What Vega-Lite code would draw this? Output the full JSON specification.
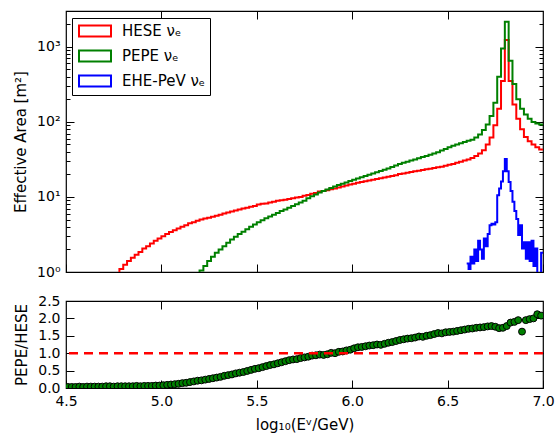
{
  "$schema": "https://vega.github.io/schema/vega-lite/v6.json",
  "autosize": {"type": "pad"},
  "padding": {"left": 12, "top": 9, "right": 2, "bottom": 2},
  "spacing": 10,
  "config": {
    "font": "DejaVu Sans",
    "view": {"stroke": "black", "strokeWidth": 1.2},
    "axis": {"labelFontSize": 14, "titleFontSize": 15, "labelColor": "black", "titleColor": "black", "titleFontWeight": "normal", "tickColor": "black", "domain": false, "grid": false, "labelFont": "DejaVu Sans", "titleFont": "DejaVu Sans", "labelFlush": false},
    "axisX": {"minExtent": 0},
    "axisTop": {"minExtent": 0},
    "axisBottom": {"minExtent": 0}
  },
  "datasets": {
    "eff": [
      {"s":"HESE","x":4.76,"y":0.9},{"s":"HESE","x":4.78,"y":1.1},{"s":"HESE","x":4.80,"y":1.25},{"s":"HESE","x":4.82,"y":1.4},{"s":"HESE","x":4.84,"y":1.55},{"s":"HESE","x":4.86,"y":1.7},{"s":"HESE","x":4.88,"y":1.85},{"s":"HESE","x":4.90,"y":2.05},{"s":"HESE","x":4.92,"y":2.2},{"s":"HESE","x":4.94,"y":2.4},{"s":"HESE","x":4.96,"y":2.6},{"s":"HESE","x":4.98,"y":2.8},{"s":"HESE","x":5.00,"y":3.0},{"s":"HESE","x":5.02,"y":3.2},{"s":"HESE","x":5.04,"y":3.4},{"s":"HESE","x":5.06,"y":3.6},{"s":"HESE","x":5.08,"y":3.8},{"s":"HESE","x":5.10,"y":4.0},{"s":"HESE","x":5.12,"y":4.2},{"s":"HESE","x":5.14,"y":4.45},{"s":"HESE","x":5.16,"y":4.6},{"s":"HESE","x":5.18,"y":4.8},{"s":"HESE","x":5.20,"y":5.0},{"s":"HESE","x":5.22,"y":5.15},{"s":"HESE","x":5.24,"y":5.3},{"s":"HESE","x":5.26,"y":5.45},{"s":"HESE","x":5.28,"y":5.6},{"s":"HESE","x":5.30,"y":5.8},{"s":"HESE","x":5.32,"y":6.0},{"s":"HESE","x":5.34,"y":6.2},{"s":"HESE","x":5.36,"y":6.4},{"s":"HESE","x":5.38,"y":6.6},{"s":"HESE","x":5.40,"y":6.8},{"s":"HESE","x":5.42,"y":7.0},{"s":"HESE","x":5.44,"y":7.2},{"s":"HESE","x":5.46,"y":7.4},{"s":"HESE","x":5.48,"y":7.6},{"s":"HESE","x":5.50,"y":7.9},{"s":"HESE","x":5.52,"y":8.1},{"s":"HESE","x":5.54,"y":8.2},{"s":"HESE","x":5.56,"y":8.4},{"s":"HESE","x":5.58,"y":8.6},{"s":"HESE","x":5.60,"y":8.9},{"s":"HESE","x":5.62,"y":9.0},{"s":"HESE","x":5.64,"y":9.2},{"s":"HESE","x":5.66,"y":9.4},{"s":"HESE","x":5.68,"y":9.6},{"s":"HESE","x":5.70,"y":9.8},{"s":"HESE","x":5.72,"y":10.0},{"s":"HESE","x":5.74,"y":10.4},{"s":"HESE","x":5.76,"y":10.6},{"s":"HESE","x":5.78,"y":11.0},{"s":"HESE","x":5.80,"y":11.3},{"s":"HESE","x":5.82,"y":11.8},{"s":"HESE","x":5.84,"y":12.0},{"s":"HESE","x":5.86,"y":12.3},{"s":"HESE","x":5.88,"y":12.7},{"s":"HESE","x":5.90,"y":13.0},{"s":"HESE","x":5.92,"y":13.4},{"s":"HESE","x":5.94,"y":13.8},{"s":"HESE","x":5.96,"y":14.2},{"s":"HESE","x":5.98,"y":14.6},{"s":"HESE","x":6.00,"y":15.0},{"s":"HESE","x":6.02,"y":15.4},{"s":"HESE","x":6.04,"y":15.8},{"s":"HESE","x":6.06,"y":16.2},{"s":"HESE","x":6.08,"y":16.6},{"s":"HESE","x":6.10,"y":17.0},{"s":"HESE","x":6.12,"y":17.4},{"s":"HESE","x":6.14,"y":17.8},{"s":"HESE","x":6.16,"y":18.2},{"s":"HESE","x":6.18,"y":18.6},{"s":"HESE","x":6.20,"y":19.0},{"s":"HESE","x":6.22,"y":19.5},{"s":"HESE","x":6.24,"y":20.2},{"s":"HESE","x":6.26,"y":20.6},{"s":"HESE","x":6.28,"y":21.0},{"s":"HESE","x":6.30,"y":21.5},{"s":"HESE","x":6.32,"y":22.0},{"s":"HESE","x":6.34,"y":22.4},{"s":"HESE","x":6.36,"y":22.9},{"s":"HESE","x":6.38,"y":23.3},{"s":"HESE","x":6.40,"y":23.8},{"s":"HESE","x":6.42,"y":24.3},{"s":"HESE","x":6.44,"y":24.8},{"s":"HESE","x":6.46,"y":25.3},{"s":"HESE","x":6.48,"y":26.0},{"s":"HESE","x":6.50,"y":26.8},{"s":"HESE","x":6.52,"y":27.5},{"s":"HESE","x":6.54,"y":28.5},{"s":"HESE","x":6.56,"y":29.5},{"s":"HESE","x":6.58,"y":30.5},{"s":"HESE","x":6.60,"y":31.5},{"s":"HESE","x":6.62,"y":33},{"s":"HESE","x":6.64,"y":35},{"s":"HESE","x":6.66,"y":38},{"s":"HESE","x":6.68,"y":42},{"s":"HESE","x":6.70,"y":50},{"s":"HESE","x":6.72,"y":62},{"s":"HESE","x":6.74,"y":90},{"s":"HESE","x":6.76,"y":150},{"s":"HESE","x":6.78,"y":350},{"s":"HESE","x":6.80,"y":1230},{"s":"HESE","x":6.82,"y":350},{"s":"HESE","x":6.84,"y":170},{"s":"HESE","x":6.86,"y":110},{"s":"HESE","x":6.88,"y":80},{"s":"HESE","x":6.90,"y":63},{"s":"HESE","x":6.92,"y":55},{"s":"HESE","x":6.94,"y":50},{"s":"HESE","x":6.96,"y":46},{"s":"HESE","x":6.98,"y":43},{"s":"HESE","x":7.00,"y":43},
      {"s":"PEPE","x":5.18,"y":0.9},{"s":"PEPE","x":5.20,"y":1.05},{"s":"PEPE","x":5.22,"y":1.2},{"s":"PEPE","x":5.24,"y":1.4},{"s":"PEPE","x":5.26,"y":1.6},{"s":"PEPE","x":5.28,"y":1.8},{"s":"PEPE","x":5.30,"y":2.0},{"s":"PEPE","x":5.32,"y":2.2},{"s":"PEPE","x":5.34,"y":2.45},{"s":"PEPE","x":5.36,"y":2.7},{"s":"PEPE","x":5.38,"y":2.95},{"s":"PEPE","x":5.40,"y":3.2},{"s":"PEPE","x":5.42,"y":3.45},{"s":"PEPE","x":5.44,"y":3.7},{"s":"PEPE","x":5.46,"y":4.0},{"s":"PEPE","x":5.48,"y":4.3},{"s":"PEPE","x":5.50,"y":4.6},{"s":"PEPE","x":5.52,"y":4.9},{"s":"PEPE","x":5.54,"y":5.2},{"s":"PEPE","x":5.56,"y":5.5},{"s":"PEPE","x":5.58,"y":5.8},{"s":"PEPE","x":5.60,"y":6.1},{"s":"PEPE","x":5.62,"y":6.5},{"s":"PEPE","x":5.64,"y":6.8},{"s":"PEPE","x":5.66,"y":7.2},{"s":"PEPE","x":5.68,"y":7.6},{"s":"PEPE","x":5.70,"y":8.0},{"s":"PEPE","x":5.72,"y":8.4},{"s":"PEPE","x":5.74,"y":8.9},{"s":"PEPE","x":5.76,"y":9.6},{"s":"PEPE","x":5.78,"y":10.2},{"s":"PEPE","x":5.80,"y":10.8},{"s":"PEPE","x":5.82,"y":11.5},{"s":"PEPE","x":5.84,"y":12.0},{"s":"PEPE","x":5.86,"y":12.6},{"s":"PEPE","x":5.88,"y":13.2},{"s":"PEPE","x":5.90,"y":13.8},{"s":"PEPE","x":5.92,"y":14.4},{"s":"PEPE","x":5.94,"y":15.0},{"s":"PEPE","x":5.96,"y":15.6},{"s":"PEPE","x":5.98,"y":16.3},{"s":"PEPE","x":6.00,"y":17.0},{"s":"PEPE","x":6.02,"y":17.6},{"s":"PEPE","x":6.04,"y":18.3},{"s":"PEPE","x":6.06,"y":19.0},{"s":"PEPE","x":6.08,"y":19.8},{"s":"PEPE","x":6.10,"y":20.6},{"s":"PEPE","x":6.12,"y":21.4},{"s":"PEPE","x":6.14,"y":22.2},{"s":"PEPE","x":6.16,"y":23.0},{"s":"PEPE","x":6.18,"y":24.0},{"s":"PEPE","x":6.20,"y":25.0},{"s":"PEPE","x":6.22,"y":26.2},{"s":"PEPE","x":6.24,"y":27.5},{"s":"PEPE","x":6.26,"y":28.5},{"s":"PEPE","x":6.28,"y":29.5},{"s":"PEPE","x":6.30,"y":30.5},{"s":"PEPE","x":6.32,"y":31.5},{"s":"PEPE","x":6.34,"y":32.8},{"s":"PEPE","x":6.36,"y":34.0},{"s":"PEPE","x":6.38,"y":35.2},{"s":"PEPE","x":6.40,"y":36.5},{"s":"PEPE","x":6.42,"y":38.0},{"s":"PEPE","x":6.44,"y":39.5},{"s":"PEPE","x":6.46,"y":41.5},{"s":"PEPE","x":6.48,"y":43.5},{"s":"PEPE","x":6.50,"y":46},{"s":"PEPE","x":6.52,"y":48},{"s":"PEPE","x":6.54,"y":50},{"s":"PEPE","x":6.56,"y":52},{"s":"PEPE","x":6.58,"y":54},{"s":"PEPE","x":6.60,"y":56},{"s":"PEPE","x":6.62,"y":58},{"s":"PEPE","x":6.64,"y":62},{"s":"PEPE","x":6.66,"y":68},{"s":"PEPE","x":6.68,"y":78},{"s":"PEPE","x":6.70,"y":92},{"s":"PEPE","x":6.72,"y":120},{"s":"PEPE","x":6.74,"y":180},{"s":"PEPE","x":6.76,"y":400},{"s":"PEPE","x":6.78,"y":950},{"s":"PEPE","x":6.80,"y":2150},{"s":"PEPE","x":6.82,"y":650},{"s":"PEPE","x":6.84,"y":320},{"s":"PEPE","x":6.86,"y":200},{"s":"PEPE","x":6.88,"y":150},{"s":"PEPE","x":6.90,"y":125},{"s":"PEPE","x":6.92,"y":110},{"s":"PEPE","x":6.94,"y":100},{"s":"PEPE","x":6.96,"y":95},{"s":"PEPE","x":6.98,"y":92},{"s":"PEPE","x":7.00,"y":92},
      {"s":"EHE","x":6.60,"y":1.3},{"s":"EHE","x":6.61,"y":1.1},{"s":"EHE","x":6.62,"y":1.6},{"s":"EHE","x":6.63,"y":1.3},{"s":"EHE","x":6.64,"y":2.0},{"s":"EHE","x":6.65,"y":1.4},{"s":"EHE","x":6.66,"y":2.6},{"s":"EHE","x":6.67,"y":2.0},{"s":"EHE","x":6.68,"y":1.5},{"s":"EHE","x":6.69,"y":2.8},{"s":"EHE","x":6.70,"y":2.2},{"s":"EHE","x":6.71,"y":3.2},{"s":"EHE","x":6.72,"y":4.2},{"s":"EHE","x":6.73,"y":4.4},{"s":"EHE","x":6.74,"y":4.3},{"s":"EHE","x":6.75,"y":4.6},{"s":"EHE","x":6.76,"y":10.5},{"s":"EHE","x":6.77,"y":13},{"s":"EHE","x":6.78,"y":16},{"s":"EHE","x":6.79,"y":22},{"s":"EHE","x":6.80,"y":32},{"s":"EHE","x":6.81,"y":22},{"s":"EHE","x":6.82,"y":15.8},{"s":"EHE","x":6.83,"y":12},{"s":"EHE","x":6.84,"y":8.6},{"s":"EHE","x":6.85,"y":6.5},{"s":"EHE","x":6.86,"y":5.1},{"s":"EHE","x":6.87,"y":3.1},{"s":"EHE","x":6.88,"y":4.2},{"s":"EHE","x":6.89,"y":2.05},{"s":"EHE","x":6.90,"y":2.5},{"s":"EHE","x":6.91,"y":1.5},{"s":"EHE","x":6.92,"y":2.5},{"s":"EHE","x":6.93,"y":1.4},{"s":"EHE","x":6.94,"y":2.6},{"s":"EHE","x":6.95,"y":1.2},{"s":"EHE","x":6.96,"y":2.05},{"s":"EHE","x":6.97,"y":0.8},{"s":"EHE","x":6.98,"y":0.8},{"s":"EHE","x":6.99,"y":1.8},{"s":"EHE","x":7.00,"y":1.8}
    ],
    "ratio": [
      {"x":4.51,"y":0.03},{"x":4.53,"y":0.03},{"x":4.55,"y":0.03},{"x":4.57,"y":0.04},{"x":4.59,"y":0.03},{"x":4.61,"y":0.04},{"x":4.63,"y":0.04},{"x":4.65,"y":0.04},{"x":4.67,"y":0.04},{"x":4.69,"y":0.04},{"x":4.71,"y":0.05},{"x":4.73,"y":0.05},{"x":4.75,"y":0.04},{"x":4.77,"y":0.05},{"x":4.79,"y":0.05},{"x":4.81,"y":0.05},{"x":4.83,"y":0.05},{"x":4.85,"y":0.05},{"x":4.87,"y":0.06},{"x":4.89,"y":0.05},{"x":4.91,"y":0.06},{"x":4.93,"y":0.06},{"x":4.95,"y":0.06},{"x":4.97,"y":0.07},{"x":4.99,"y":0.07},{"x":5.01,"y":0.08},{"x":5.03,"y":0.09},{"x":5.05,"y":0.10},{"x":5.07,"y":0.11},{"x":5.09,"y":0.12},{"x":5.11,"y":0.14},{"x":5.13,"y":0.15},{"x":5.15,"y":0.17},{"x":5.17,"y":0.19},{"x":5.19,"y":0.21},{"x":5.21,"y":0.22},{"x":5.23,"y":0.24},{"x":5.25,"y":0.26},{"x":5.27,"y":0.28},{"x":5.29,"y":0.30},{"x":5.31,"y":0.32},{"x":5.33,"y":0.35},{"x":5.35,"y":0.37},{"x":5.37,"y":0.39},{"x":5.39,"y":0.42},{"x":5.41,"y":0.44},{"x":5.43,"y":0.46},{"x":5.45,"y":0.49},{"x":5.47,"y":0.52},{"x":5.49,"y":0.55},{"x":5.51,"y":0.57},{"x":5.53,"y":0.60},{"x":5.55,"y":0.63},{"x":5.57,"y":0.66},{"x":5.59,"y":0.68},{"x":5.61,"y":0.71},{"x":5.63,"y":0.74},{"x":5.65,"y":0.77},{"x":5.67,"y":0.80},{"x":5.69,"y":0.82},{"x":5.71,"y":0.83},{"x":5.73,"y":0.86},{"x":5.75,"y":0.88},{"x":5.77,"y":0.90},{"x":5.79,"y":0.93},{"x":5.81,"y":0.94},{"x":5.83,"y":0.96},{"x":5.85,"y":0.95},{"x":5.87,"y":0.97},{"x":5.89,"y":1.01},{"x":5.91,"y":1.00},{"x":5.93,"y":1.04},{"x":5.95,"y":1.05},{"x":5.97,"y":1.08},{"x":5.99,"y":1.10},{"x":6.01,"y":1.14},{"x":6.03,"y":1.17},{"x":6.05,"y":1.18},{"x":6.07,"y":1.20},{"x":6.09,"y":1.22},{"x":6.11,"y":1.23},{"x":6.13,"y":1.25},{"x":6.15,"y":1.24},{"x":6.17,"y":1.27},{"x":6.19,"y":1.30},{"x":6.21,"y":1.32},{"x":6.23,"y":1.35},{"x":6.25,"y":1.38},{"x":6.27,"y":1.40},{"x":6.29,"y":1.42},{"x":6.31,"y":1.43},{"x":6.33,"y":1.45},{"x":6.35,"y":1.48},{"x":6.37,"y":1.47},{"x":6.39,"y":1.50},{"x":6.41,"y":1.52},{"x":6.43,"y":1.55},{"x":6.45,"y":1.58},{"x":6.47,"y":1.57},{"x":6.49,"y":1.60},{"x":6.51,"y":1.61},{"x":6.53,"y":1.62},{"x":6.55,"y":1.64},{"x":6.57,"y":1.66},{"x":6.59,"y":1.68},{"x":6.61,"y":1.70},{"x":6.63,"y":1.71},{"x":6.65,"y":1.73},{"x":6.67,"y":1.74},{"x":6.69,"y":1.75},{"x":6.71,"y":1.77},{"x":6.73,"y":1.78},{"x":6.75,"y":1.76},{"x":6.77,"y":1.72},{"x":6.79,"y":1.73},{"x":6.81,"y":1.78},{"x":6.83,"y":1.88},{"x":6.85,"y":1.90},{"x":6.87,"y":1.95},{"x":6.89,"y":1.62},{"x":6.91,"y":1.95},{"x":6.93,"y":1.98},{"x":6.95,"y":2.00},{"x":6.97,"y":2.12},{"x":6.99,"y":2.08}
    ]
  },
  "vconcat": [
    {
      "width": 477,
      "height": 261,
      "data": {"name": "eff"},
      "resolve": {"axis": {"x": "independent", "y": "independent"}},
      "layer": [
        {
          "mark": {"type": "line", "interpolate": "step-after", "strokeWidth": 2, "clip": true},
          "encoding": {
            "x": {"field": "x", "type": "quantitative", "scale": {"domain": [4.5, 7.0], "nice": false, "zero": false},
                  "axis": {"values": [4.5, 5.0, 5.5, 6.0, 6.5, 7.0], "labels": false, "title": null, "tickSize": -8, "orient": "bottom"}},
            "y": {"field": "y", "type": "quantitative", "scale": {"type": "log", "domain": [1, 3000], "nice": false},
                  "axis": {"values": [1, 10, 100, 1000], "tickSize": -8, "labelPadding": 14, "title": "Effective Area [m²]", "titlePadding": 8,
                           "labelExpr": "'10' + (datum.value == 1 ? '⁰' : datum.value == 10 ? '¹' : datum.value == 100 ? '²' : '³')"}},
            "stroke": {"field": "s", "type": "nominal",
                       "scale": {"domain": ["HESE", "PEPE", "EHE"], "range": ["#ff0000", "#008000", "#0000ff"]},
                       "legend": {"title": null, "orient": "none", "legendX": 6, "legendY": 7,
                                  "labelExpr": "datum.value == 'HESE' ? 'HESE νₑ' : datum.value == 'PEPE' ? 'PEPE νₑ' : 'EHE-PeV νₑ'",
                                  "symbolType": "M-2,-0.7H2V0.7H-2Z", "symbolSize": 256, "symbolStrokeWidth": 2, "symbolFillColor": "transparent", "symbolOffset": 10,
                                  "labelFontSize": 15, "labelColor": "black", "labelOffset": 18, "rowPadding": 5, "padding": 4,
                                  "strokeColor": "black", "fillColor": "white", "labelFont": "DejaVu Sans"}}
          }
        },
        {
          "mark": {"type": "point", "opacity": 0},
          "encoding": {
            "x": {"field": "x", "type": "quantitative", "scale": {"domain": [4.5, 7.0], "nice": false, "zero": false},
                  "axis": {"values": [5.0, 5.5, 6.0, 6.5], "labels": false, "title": null, "tickSize": -8, "orient": "top"}},
            "y": {"field": "y", "type": "quantitative", "scale": {"type": "log", "domain": [1, 3000], "nice": false},
                  "axis": {"values": [2,3,4,5,6,7,8,9,20,30,40,50,60,70,80,90,200,300,400,500,600,700,800,900,2000,3000], "labels": false, "title": null, "tickSize": -4, "orient": "left"}}
          }
        },
        {
          "mark": {"type": "point", "opacity": 0},
          "encoding": {
            "x": {"field": "x", "type": "quantitative", "scale": {"domain": [4.5, 7.0], "nice": false, "zero": false}, "axis": null},
            "y": {"field": "y", "type": "quantitative", "scale": {"type": "log", "domain": [1, 3000], "nice": false},
                  "axis": {"values": [1, 10, 100, 1000], "labels": false, "title": null, "tickSize": -8, "orient": "right"}}
          }
        },
        {
          "mark": {"type": "point", "opacity": 0},
          "encoding": {
            "x": {"field": "x", "type": "quantitative", "scale": {"domain": [4.5, 7.0], "nice": false, "zero": false}, "axis": null},
            "y": {"field": "y", "type": "quantitative", "scale": {"type": "log", "domain": [1, 3000], "nice": false},
                  "axis": {"values": [2,3,4,5,6,7,8,9,20,30,40,50,60,70,80,90,200,300,400,500,600,700,800,900,2000,3000], "labels": false, "title": null, "tickSize": -4, "orient": "right"}}
          }
        }
      ]
    },
    {
      "width": 477,
      "height": 87,
      "resolve": {"axis": {"x": "independent", "y": "independent"}},
      "layer": [
        {
          "data": {"name": "ratio"},
          "mark": {"type": "point", "filled": true, "size": 48, "fill": "#008000", "stroke": "black", "strokeWidth": 1, "opacity": 1, "clip": true},
          "encoding": {
            "x": {"field": "x", "type": "quantitative", "scale": {"domain": [4.5, 7.0], "nice": false, "zero": false},
                  "axis": {"values": [4.5, 5.0, 5.5, 6.0, 6.5, 7.0], "format": ".1f", "tickSize": -8, "labelPadding": 14, "title": "log₁₀(Eᵛ/GeV)", "titlePadding": 9, "orient": "bottom"}},
            "y": {"field": "y", "type": "quantitative", "scale": {"domain": [0, 2.5], "nice": false},
                  "axis": {"values": [0, 0.5, 1.0, 1.5, 2.0, 2.5], "format": ".1f", "tickSize": -8, "labelPadding": 14, "title": "PEPE/HESE", "titlePadding": 8, "orient": "left"}}
          }
        },
        {
          "data": {"values": [{"v": 1}]},
          "mark": {"type": "rule", "color": "#ff0000", "strokeWidth": 2.5, "strokeDash": [9, 6]},
          "encoding": {
            "y": {"field": "v", "type": "quantitative", "scale": {"domain": [0, 2.5], "nice": false}, "axis": null}
          }
        },
        {
          "data": {"name": "ratio"},
          "mark": {"type": "point", "opacity": 0},
          "encoding": {
            "x": {"field": "x", "type": "quantitative", "scale": {"domain": [4.5, 7.0], "nice": false, "zero": false},
                  "axis": {"values": [5.0, 5.5, 6.0, 6.5], "labels": false, "title": null, "tickSize": -8, "orient": "top"}},
            "y": {"field": "y", "type": "quantitative", "scale": {"domain": [0, 2.5], "nice": false},
                  "axis": {"values": [0.5, 1.0, 1.5, 2.0], "labels": false, "title": null, "tickSize": -8, "orient": "right"}}
          }
        }
      ]
    }
  ]
}
